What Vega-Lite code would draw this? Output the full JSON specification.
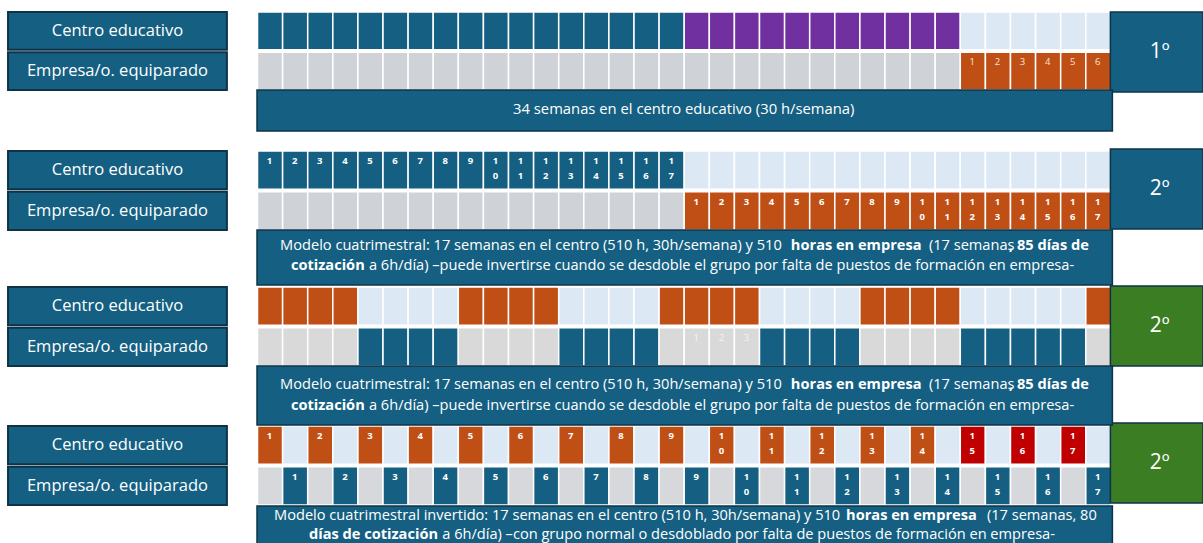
{
"$schema": "https://vega.github.io/schema/vega-lite/v6.json",
"width": 1203, "height": 543,
"autosize": {"type": "fit", "contains": "padding"},
"padding": 0,
"background": "white",
"config": {"view": {"stroke": null}, "axis": {"disable": true}, "legend": {"disable": true}, "text": {"font": "Open Sans"}},
"resolve": {"scale": {"y": "independent", "color": "independent"}},
"datasets": {
"etiquetas": [{"f": "C", "nombre": "Centro educativo"}, {"f": "E", "nombre": "Empresa/o. equiparado"}],
"celdas": [
{"s":1,"f":"C","w":1,"t":"centro"},{"s":1,"f":"C","w":2,"t":"centro"},{"s":1,"f":"C","w":3,"t":"centro"},{"s":1,"f":"C","w":4,"t":"centro"},{"s":1,"f":"C","w":5,"t":"centro"},{"s":1,"f":"C","w":6,"t":"centro"},{"s":1,"f":"C","w":7,"t":"centro"},{"s":1,"f":"C","w":8,"t":"centro"},{"s":1,"f":"C","w":9,"t":"centro"},{"s":1,"f":"C","w":10,"t":"centro"},{"s":1,"f":"C","w":11,"t":"centro"},{"s":1,"f":"C","w":12,"t":"centro"},{"s":1,"f":"C","w":13,"t":"centro"},{"s":1,"f":"C","w":14,"t":"centro"},{"s":1,"f":"C","w":15,"t":"centro"},{"s":1,"f":"C","w":16,"t":"centro"},{"s":1,"f":"C","w":17,"t":"centro"},
{"s":1,"f":"C","w":18,"t":"centro2"},{"s":1,"f":"C","w":19,"t":"centro2"},{"s":1,"f":"C","w":20,"t":"centro2"},{"s":1,"f":"C","w":21,"t":"centro2"},{"s":1,"f":"C","w":22,"t":"centro2"},{"s":1,"f":"C","w":23,"t":"centro2"},{"s":1,"f":"C","w":24,"t":"centro2"},{"s":1,"f":"C","w":25,"t":"centro2"},{"s":1,"f":"C","w":26,"t":"centro2"},{"s":1,"f":"C","w":27,"t":"centro2"},{"s":1,"f":"C","w":28,"t":"centro2"},
{"s":1,"f":"C","w":29,"t":"libre"},{"s":1,"f":"C","w":30,"t":"libre"},{"s":1,"f":"C","w":31,"t":"libre"},{"s":1,"f":"C","w":32,"t":"libre"},{"s":1,"f":"C","w":33,"t":"libre"},{"s":1,"f":"C","w":34,"t":"libre"},
{"s":1,"f":"E","w":1,"t":"sin"},{"s":1,"f":"E","w":2,"t":"sin"},{"s":1,"f":"E","w":3,"t":"sin"},{"s":1,"f":"E","w":4,"t":"sin"},{"s":1,"f":"E","w":5,"t":"sin"},{"s":1,"f":"E","w":6,"t":"sin"},{"s":1,"f":"E","w":7,"t":"sin"},{"s":1,"f":"E","w":8,"t":"sin"},{"s":1,"f":"E","w":9,"t":"sin"},{"s":1,"f":"E","w":10,"t":"sin"},{"s":1,"f":"E","w":11,"t":"sin"},{"s":1,"f":"E","w":12,"t":"sin"},{"s":1,"f":"E","w":13,"t":"sin"},{"s":1,"f":"E","w":14,"t":"sin"},{"s":1,"f":"E","w":15,"t":"sin"},{"s":1,"f":"E","w":16,"t":"sin"},{"s":1,"f":"E","w":17,"t":"sin"},{"s":1,"f":"E","w":18,"t":"sin"},{"s":1,"f":"E","w":19,"t":"sin"},{"s":1,"f":"E","w":20,"t":"sin"},{"s":1,"f":"E","w":21,"t":"sin"},{"s":1,"f":"E","w":22,"t":"sin"},{"s":1,"f":"E","w":23,"t":"sin"},{"s":1,"f":"E","w":24,"t":"sin"},{"s":1,"f":"E","w":25,"t":"sin"},{"s":1,"f":"E","w":26,"t":"sin"},{"s":1,"f":"E","w":27,"t":"sin"},{"s":1,"f":"E","w":28,"t":"sin"},
{"s":1,"f":"E","w":29,"t":"empresa","n":"1"},{"s":1,"f":"E","w":30,"t":"empresa","n":"2"},{"s":1,"f":"E","w":31,"t":"empresa","n":"3"},{"s":1,"f":"E","w":32,"t":"empresa","n":"4"},{"s":1,"f":"E","w":33,"t":"empresa","n":"5"},{"s":1,"f":"E","w":34,"t":"empresa","n":"6"},

{"s":2,"f":"C","w":1,"t":"centro","n":"1"},{"s":2,"f":"C","w":2,"t":"centro","n":"2"},{"s":2,"f":"C","w":3,"t":"centro","n":"3"},{"s":2,"f":"C","w":4,"t":"centro","n":"4"},{"s":2,"f":"C","w":5,"t":"centro","n":"5"},{"s":2,"f":"C","w":6,"t":"centro","n":"6"},{"s":2,"f":"C","w":7,"t":"centro","n":"7"},{"s":2,"f":"C","w":8,"t":"centro","n":"8"},{"s":2,"f":"C","w":9,"t":"centro","n":"9"},{"s":2,"f":"C","w":10,"t":"centro","n":"1\n0"},{"s":2,"f":"C","w":11,"t":"centro","n":"1\n1"},{"s":2,"f":"C","w":12,"t":"centro","n":"1\n2"},{"s":2,"f":"C","w":13,"t":"centro","n":"1\n3"},{"s":2,"f":"C","w":14,"t":"centro","n":"1\n4"},{"s":2,"f":"C","w":15,"t":"centro","n":"1\n5"},{"s":2,"f":"C","w":16,"t":"centro","n":"1\n6"},{"s":2,"f":"C","w":17,"t":"centro","n":"1\n7"},
{"s":2,"f":"C","w":18,"t":"libre"},{"s":2,"f":"C","w":19,"t":"libre"},{"s":2,"f":"C","w":20,"t":"libre"},{"s":2,"f":"C","w":21,"t":"libre"},{"s":2,"f":"C","w":22,"t":"libre"},{"s":2,"f":"C","w":23,"t":"libre"},{"s":2,"f":"C","w":24,"t":"libre"},{"s":2,"f":"C","w":25,"t":"libre"},{"s":2,"f":"C","w":26,"t":"libre"},{"s":2,"f":"C","w":27,"t":"libre"},{"s":2,"f":"C","w":28,"t":"libre"},{"s":2,"f":"C","w":29,"t":"libre"},{"s":2,"f":"C","w":30,"t":"libre"},{"s":2,"f":"C","w":31,"t":"libre"},{"s":2,"f":"C","w":32,"t":"libre"},{"s":2,"f":"C","w":33,"t":"libre"},{"s":2,"f":"C","w":34,"t":"libre"},
{"s":2,"f":"E","w":1,"t":"sin"},{"s":2,"f":"E","w":2,"t":"sin"},{"s":2,"f":"E","w":3,"t":"sin"},{"s":2,"f":"E","w":4,"t":"sin"},{"s":2,"f":"E","w":5,"t":"sin"},{"s":2,"f":"E","w":6,"t":"sin"},{"s":2,"f":"E","w":7,"t":"sin"},{"s":2,"f":"E","w":8,"t":"sin"},{"s":2,"f":"E","w":9,"t":"sin"},{"s":2,"f":"E","w":10,"t":"sin"},{"s":2,"f":"E","w":11,"t":"sin"},{"s":2,"f":"E","w":12,"t":"sin"},{"s":2,"f":"E","w":13,"t":"sin"},{"s":2,"f":"E","w":14,"t":"sin"},{"s":2,"f":"E","w":15,"t":"sin"},{"s":2,"f":"E","w":16,"t":"sin"},{"s":2,"f":"E","w":17,"t":"sin"},
{"s":2,"f":"E","w":18,"t":"empresa","n":"1"},{"s":2,"f":"E","w":19,"t":"empresa","n":"2"},{"s":2,"f":"E","w":20,"t":"empresa","n":"3"},{"s":2,"f":"E","w":21,"t":"empresa","n":"4"},{"s":2,"f":"E","w":22,"t":"empresa","n":"5"},{"s":2,"f":"E","w":23,"t":"empresa","n":"6"},{"s":2,"f":"E","w":24,"t":"empresa","n":"7"},{"s":2,"f":"E","w":25,"t":"empresa","n":"8"},{"s":2,"f":"E","w":26,"t":"empresa","n":"9"},{"s":2,"f":"E","w":27,"t":"empresa","n":"1\n0"},{"s":2,"f":"E","w":28,"t":"empresa","n":"1\n1"},{"s":2,"f":"E","w":29,"t":"empresa","n":"1\n2"},{"s":2,"f":"E","w":30,"t":"empresa","n":"1\n3"},{"s":2,"f":"E","w":31,"t":"empresa","n":"1\n4"},{"s":2,"f":"E","w":32,"t":"empresa","n":"1\n5"},{"s":2,"f":"E","w":33,"t":"empresa","n":"1\n6"},{"s":2,"f":"E","w":34,"t":"empresa","n":"1\n7"},

{"s":3,"f":"C","w":1,"t":"empresa"},{"s":3,"f":"C","w":2,"t":"empresa"},{"s":3,"f":"C","w":3,"t":"empresa"},{"s":3,"f":"C","w":4,"t":"empresa"},{"s":3,"f":"C","w":5,"t":"libre"},{"s":3,"f":"C","w":6,"t":"libre"},{"s":3,"f":"C","w":7,"t":"libre"},{"s":3,"f":"C","w":8,"t":"libre"},{"s":3,"f":"C","w":9,"t":"empresa"},{"s":3,"f":"C","w":10,"t":"empresa"},{"s":3,"f":"C","w":11,"t":"empresa"},{"s":3,"f":"C","w":12,"t":"empresa"},{"s":3,"f":"C","w":13,"t":"libre"},{"s":3,"f":"C","w":14,"t":"libre"},{"s":3,"f":"C","w":15,"t":"libre"},{"s":3,"f":"C","w":16,"t":"libre"},{"s":3,"f":"C","w":17,"t":"empresa"},{"s":3,"f":"C","w":18,"t":"empresa"},{"s":3,"f":"C","w":19,"t":"empresa"},{"s":3,"f":"C","w":20,"t":"empresa"},{"s":3,"f":"C","w":21,"t":"libre"},{"s":3,"f":"C","w":22,"t":"libre"},{"s":3,"f":"C","w":23,"t":"libre"},{"s":3,"f":"C","w":24,"t":"libre"},{"s":3,"f":"C","w":25,"t":"empresa"},{"s":3,"f":"C","w":26,"t":"empresa"},{"s":3,"f":"C","w":27,"t":"empresa"},{"s":3,"f":"C","w":28,"t":"empresa"},{"s":3,"f":"C","w":29,"t":"libre"},{"s":3,"f":"C","w":30,"t":"libre"},{"s":3,"f":"C","w":31,"t":"libre"},{"s":3,"f":"C","w":32,"t":"libre"},{"s":3,"f":"C","w":33,"t":"libre"},{"s":3,"f":"C","w":34,"t":"empresa"},
{"s":3,"f":"E","w":1,"t":"sin"},{"s":3,"f":"E","w":2,"t":"sin"},{"s":3,"f":"E","w":3,"t":"sin"},{"s":3,"f":"E","w":4,"t":"sin"},{"s":3,"f":"E","w":5,"t":"centro"},{"s":3,"f":"E","w":6,"t":"centro"},{"s":3,"f":"E","w":7,"t":"centro"},{"s":3,"f":"E","w":8,"t":"centro"},{"s":3,"f":"E","w":9,"t":"sin"},{"s":3,"f":"E","w":10,"t":"sin"},{"s":3,"f":"E","w":11,"t":"sin"},{"s":3,"f":"E","w":12,"t":"sin"},{"s":3,"f":"E","w":13,"t":"centro"},{"s":3,"f":"E","w":14,"t":"centro"},{"s":3,"f":"E","w":15,"t":"centro"},{"s":3,"f":"E","w":16,"t":"centro"},{"s":3,"f":"E","w":17,"t":"sin"},{"s":3,"f":"E","w":18,"t":"sin","n":"1"},{"s":3,"f":"E","w":19,"t":"sin","n":"2"},{"s":3,"f":"E","w":20,"t":"sin","n":"3"},{"s":3,"f":"E","w":21,"t":"centro"},{"s":3,"f":"E","w":22,"t":"centro"},{"s":3,"f":"E","w":23,"t":"centro"},{"s":3,"f":"E","w":24,"t":"centro"},{"s":3,"f":"E","w":25,"t":"sin"},{"s":3,"f":"E","w":26,"t":"sin"},{"s":3,"f":"E","w":27,"t":"sin"},{"s":3,"f":"E","w":28,"t":"sin"},{"s":3,"f":"E","w":29,"t":"centro"},{"s":3,"f":"E","w":30,"t":"centro"},{"s":3,"f":"E","w":31,"t":"centro"},{"s":3,"f":"E","w":32,"t":"centro"},{"s":3,"f":"E","w":33,"t":"centro"},{"s":3,"f":"E","w":34,"t":"sin"},

{"s":4,"f":"C","w":1,"t":"empresa","n":"1"},{"s":4,"f":"C","w":2,"t":"libre"},{"s":4,"f":"C","w":3,"t":"empresa","n":"2"},{"s":4,"f":"C","w":4,"t":"libre"},{"s":4,"f":"C","w":5,"t":"empresa","n":"3"},{"s":4,"f":"C","w":6,"t":"libre"},{"s":4,"f":"C","w":7,"t":"empresa","n":"4"},{"s":4,"f":"C","w":8,"t":"libre"},{"s":4,"f":"C","w":9,"t":"empresa","n":"5"},{"s":4,"f":"C","w":10,"t":"libre"},{"s":4,"f":"C","w":11,"t":"empresa","n":"6"},{"s":4,"f":"C","w":12,"t":"libre"},{"s":4,"f":"C","w":13,"t":"empresa","n":"7"},{"s":4,"f":"C","w":14,"t":"libre"},{"s":4,"f":"C","w":15,"t":"empresa","n":"8"},{"s":4,"f":"C","w":16,"t":"libre"},{"s":4,"f":"C","w":17,"t":"empresa","n":"9"},{"s":4,"f":"C","w":18,"t":"libre"},{"s":4,"f":"C","w":19,"t":"empresa","n":"1\n0"},{"s":4,"f":"C","w":20,"t":"libre"},{"s":4,"f":"C","w":21,"t":"empresa","n":"1\n1"},{"s":4,"f":"C","w":22,"t":"libre"},{"s":4,"f":"C","w":23,"t":"empresa","n":"1\n2"},{"s":4,"f":"C","w":24,"t":"libre"},{"s":4,"f":"C","w":25,"t":"empresa","n":"1\n3"},{"s":4,"f":"C","w":26,"t":"libre"},{"s":4,"f":"C","w":27,"t":"empresa","n":"1\n4"},{"s":4,"f":"C","w":28,"t":"libre"},{"s":4,"f":"C","w":29,"t":"empresa2","n":"1\n5"},{"s":4,"f":"C","w":30,"t":"libre"},{"s":4,"f":"C","w":31,"t":"empresa2","n":"1\n6"},{"s":4,"f":"C","w":32,"t":"libre"},{"s":4,"f":"C","w":33,"t":"empresa2","n":"1\n7"},{"s":4,"f":"C","w":34,"t":"libre"},
{"s":4,"f":"E","w":1,"t":"sin"},{"s":4,"f":"E","w":2,"t":"centro","n":"1"},{"s":4,"f":"E","w":3,"t":"sin"},{"s":4,"f":"E","w":4,"t":"centro","n":"2"},{"s":4,"f":"E","w":5,"t":"sin"},{"s":4,"f":"E","w":6,"t":"centro","n":"3"},{"s":4,"f":"E","w":7,"t":"sin"},{"s":4,"f":"E","w":8,"t":"centro","n":"4"},{"s":4,"f":"E","w":9,"t":"sin"},{"s":4,"f":"E","w":10,"t":"centro","n":"5"},{"s":4,"f":"E","w":11,"t":"sin"},{"s":4,"f":"E","w":12,"t":"centro","n":"6"},{"s":4,"f":"E","w":13,"t":"sin"},{"s":4,"f":"E","w":14,"t":"centro","n":"7"},{"s":4,"f":"E","w":15,"t":"sin"},{"s":4,"f":"E","w":16,"t":"centro","n":"8"},{"s":4,"f":"E","w":17,"t":"sin"},{"s":4,"f":"E","w":18,"t":"centro","n":"9"},{"s":4,"f":"E","w":19,"t":"sin"},{"s":4,"f":"E","w":20,"t":"centro","n":"1\n0"},{"s":4,"f":"E","w":21,"t":"sin"},{"s":4,"f":"E","w":22,"t":"centro","n":"1\n1"},{"s":4,"f":"E","w":23,"t":"sin"},{"s":4,"f":"E","w":24,"t":"centro","n":"1\n2"},{"s":4,"f":"E","w":25,"t":"sin"},{"s":4,"f":"E","w":26,"t":"centro","n":"1\n3"},{"s":4,"f":"E","w":27,"t":"sin"},{"s":4,"f":"E","w":28,"t":"centro","n":"1\n4"},{"s":4,"f":"E","w":29,"t":"sin"},{"s":4,"f":"E","w":30,"t":"centro","n":"1\n5"},{"s":4,"f":"E","w":31,"t":"sin"},{"s":4,"f":"E","w":32,"t":"centro","n":"1\n6"},{"s":4,"f":"E","w":33,"t":"sin"},{"s":4,"f":"E","w":34,"t":"centro","n":"1\n7"}
]
},
"layer": [
{"data": {"name": "celdas"}, "transform": [{"filter": "datum.s == 1"}],
 "layer": [
  {"mark": {"type": "rect", "stroke": "white", "strokeWidth": 1.5},
   "encoding": {
    "x": {"field": "w", "type": "quantitative", "bin": {"step": 1, "extent": [1, 35]}, "scale": {"domain": [-9.24, 38.69], "nice": false, "zero": false}},
    "y": {"field": "f", "type": "nominal", "scale": {"domain": ["C", "E"], "range": [12, 90], "paddingInner": 0.06, "paddingOuter": 0}},
    "color": {"field": "t", "type": "nominal", "scale": {"domain": ["centro", "centro2", "libre", "sin", "empresa", "empresa2"], "range": ["#156082", "#7030A0", "#DCE9F5", "#CFD3D8", "#C04F15", "#C00000"]}}}},
  {"transform": [{"filter": "datum.n"}],
   "mark": {"type": "text", "color": "#F6E4DA", "fontSize": 9.5, "baseline": "top", "dy": -14, "lineBreak": "\n", "lineHeight": 15},
   "encoding": {"x": {"field": "w", "type": "quantitative", "bin": {"step": 1, "extent": [1, 35]}}, "y": {"field": "f", "type": "nominal"}, "text": {"field": "n"}}},
  {"data": {"name": "etiquetas"}, "mark": {"type": "rect", "fill": "#156082", "stroke": "#0E3347", "strokeWidth": 2},
   "encoding": {"x": {"datum": -8.92, "type": "quantitative"}, "x2": {"datum": -0.2}, "y": {"field": "f", "type": "nominal"}}},
  {"data": {"name": "etiquetas"}, "mark": {"type": "text", "color": "white", "fontSize": 16.5},
   "encoding": {"x": {"datum": -4.56, "type": "quantitative"}, "y": {"field": "f", "type": "nominal"}, "text": {"field": "nombre"}}}
 ]},
{"data": {"name": "celdas"}, "transform": [{"filter": "datum.s == 2"}],
 "layer": [
  {"mark": {"type": "rect", "stroke": "white", "strokeWidth": 1.5},
   "encoding": {
    "x": {"field": "w", "type": "quantitative", "bin": {"step": 1, "extent": [1, 35]}},
    "y": {"field": "f", "type": "nominal", "scale": {"domain": ["C", "E"], "range": [151, 230], "paddingInner": 0.06, "paddingOuter": 0}},
    "color": {"field": "t", "type": "nominal", "scale": {"domain": ["centro", "centro2", "libre", "sin", "empresa", "empresa2"], "range": ["#156082", "#7030A0", "#DCE9F5", "#CFD3D8", "#C04F15", "#C00000"]}}}},
  {"transform": [{"filter": "datum.n"}],
   "mark": {"type": "text", "color": "white", "fontSize": 9.5, "fontWeight": "bold", "baseline": "top", "dy": -14, "lineBreak": "\n", "lineHeight": 15},
   "encoding": {"x": {"field": "w", "type": "quantitative", "bin": {"step": 1, "extent": [1, 35]}}, "y": {"field": "f", "type": "nominal"}, "text": {"field": "n"}}},
  {"data": {"name": "etiquetas"}, "mark": {"type": "rect", "fill": "#156082", "stroke": "#0E3347", "strokeWidth": 2},
   "encoding": {"x": {"datum": -8.92, "type": "quantitative"}, "x2": {"datum": -0.2}, "y": {"field": "f", "type": "nominal"}}},
  {"data": {"name": "etiquetas"}, "mark": {"type": "text", "color": "white", "fontSize": 16.5},
   "encoding": {"x": {"datum": -4.56, "type": "quantitative"}, "y": {"field": "f", "type": "nominal"}, "text": {"field": "nombre"}}}
 ]},
{"data": {"name": "celdas"}, "transform": [{"filter": "datum.s == 3"}],
 "layer": [
  {"mark": {"type": "rect", "stroke": "white", "strokeWidth": 1.5},
   "encoding": {
    "x": {"field": "w", "type": "quantitative", "bin": {"step": 1, "extent": [1, 35]}},
    "y": {"field": "f", "type": "nominal", "scale": {"domain": ["C", "E"], "range": [287, 366], "paddingInner": 0.06, "paddingOuter": 0}},
    "color": {"field": "t", "type": "nominal", "scale": {"domain": ["centro", "centro2", "libre", "sin", "empresa", "empresa2"], "range": ["#156082", "#7030A0", "#DCE9F5", "#D9D9D9", "#C04F15", "#C00000"]}}}},
  {"transform": [{"filter": "datum.n"}],
   "mark": {"type": "text", "color": "#F4F4F4", "fontSize": 9.5, "baseline": "top", "dy": -14, "lineBreak": "\n", "lineHeight": 15},
   "encoding": {"x": {"field": "w", "type": "quantitative", "bin": {"step": 1, "extent": [1, 35]}}, "y": {"field": "f", "type": "nominal"}, "text": {"field": "n"}}},
  {"data": {"name": "etiquetas"}, "mark": {"type": "rect", "fill": "#156082", "stroke": "#0E3347", "strokeWidth": 2},
   "encoding": {"x": {"datum": -8.92, "type": "quantitative"}, "x2": {"datum": -0.2}, "y": {"field": "f", "type": "nominal"}}},
  {"data": {"name": "etiquetas"}, "mark": {"type": "text", "color": "white", "fontSize": 16.5},
   "encoding": {"x": {"datum": -4.56, "type": "quantitative"}, "y": {"field": "f", "type": "nominal"}, "text": {"field": "nombre"}}}
 ]},
{"data": {"name": "celdas"}, "transform": [{"filter": "datum.s == 4"}],
 "layer": [
  {"mark": {"type": "rect", "stroke": "white", "strokeWidth": 1.5},
   "encoding": {
    "x": {"field": "w", "type": "quantitative", "bin": {"step": 1, "extent": [1, 35]}},
    "y": {"field": "f", "type": "nominal", "scale": {"domain": ["C", "E"], "range": [426, 505], "paddingInner": 0.06, "paddingOuter": 0}},
    "color": {"field": "t", "type": "nominal", "scale": {"domain": ["centro", "centro2", "libre", "sin", "empresa", "empresa2"], "range": ["#156082", "#7030A0", "#DCE9F5", "#D6D8DB", "#C04F15", "#C00000"]}}}},
  {"transform": [{"filter": "datum.n"}],
   "mark": {"type": "text", "color": "white", "fontSize": 9.5, "fontWeight": "bold", "baseline": "top", "dy": -14, "lineBreak": "\n", "lineHeight": 15},
   "encoding": {"x": {"field": "w", "type": "quantitative", "bin": {"step": 1, "extent": [1, 35]}}, "y": {"field": "f", "type": "nominal"}, "text": {"field": "n"}}},
  {"data": {"name": "etiquetas"}, "mark": {"type": "rect", "fill": "#156082", "stroke": "#0E3347", "strokeWidth": 2},
   "encoding": {"x": {"datum": -8.92, "type": "quantitative"}, "x2": {"datum": -0.2}, "y": {"field": "f", "type": "nominal"}}},
  {"data": {"name": "etiquetas"}, "mark": {"type": "text", "color": "white", "fontSize": 16.5},
   "encoding": {"x": {"datum": -4.56, "type": "quantitative"}, "y": {"field": "f", "type": "nominal"}, "text": {"field": "nombre"}}}
 ]},
{"data": {"values": [{"s": 1, "curso": "1º", "grupo": "A"}, {"s": 2, "curso": "2º", "grupo": "A"}, {"s": 3, "curso": "2º", "grupo": "B"}, {"s": 4, "curso": "2º", "grupo": "B"}]},
 "layer": [
  {"mark": {"type": "rect", "stroke": "#0E3347", "strokeWidth": 1.5, "clip": true},
   "encoding": {"x": {"datum": 35, "type": "quantitative"}, "x2": {"datum": 38.69},
    "y": {"field": "s", "type": "ordinal", "scale": {"domain": [1, 2, 3, 4], "range": [12, 503], "paddingInner": 0.416, "paddingOuter": 0}},
    "color": {"field": "grupo", "type": "nominal", "scale": {"domain": ["A", "B"], "range": ["#156082", "#3B7D23"]}}}},
  {"mark": {"type": "text", "color": "white", "fontSize": 21},
   "encoding": {"x": {"datum": 36.96, "type": "quantitative"}, "y": {"field": "s", "type": "ordinal"}, "text": {"field": "curso"}}}
 ]},
{"layer": [
  {"data": {"values": [{"bloque": "1º"}]}, "mark": {"type": "rect", "fill": "#156082", "stroke": "#0E3347", "strokeWidth": 1.5},
   "encoding": {"x": {"datum": 1, "type": "quantitative"}, "x2": {"datum": 35.08}, "y": {"datum": 90, "type": "quantitative", "scale": {"domain": [0, 543], "range": [0, 543], "nice": false, "zero": false}}, "y2": {"datum": 131}}},
  {"data": {"values": [{"bloque": "2º A"}]}, "mark": {"type": "rect", "fill": "#156082", "stroke": "#0E3347", "strokeWidth": 1.5},
   "encoding": {"x": {"datum": 1, "type": "quantitative"}, "x2": {"datum": 35.08}, "y": {"datum": 230, "type": "quantitative"}, "y2": {"datum": 285}}},
  {"data": {"values": [{"bloque": "2º B"}]}, "mark": {"type": "rect", "fill": "#156082", "stroke": "#0E3347", "strokeWidth": 1.5},
   "encoding": {"x": {"datum": 1, "type": "quantitative"}, "x2": {"datum": 35.08}, "y": {"datum": 366, "type": "quantitative"}, "y2": {"datum": 425}}},
  {"data": {"values": [{"bloque": "2º C"}]}, "mark": {"type": "rect", "fill": "#156082", "stroke": "#0E3347", "strokeWidth": 1.5, "clip": true},
   "encoding": {"x": {"datum": 1, "type": "quantitative"}, "x2": {"datum": 35.08}, "y": {"datum": 506, "type": "quantitative"}, "y2": {"datum": 560}}},

  {"data": {"values": [{"texto": "34 semanas en el centro educativo (30 h/semana)"}]}, "mark": {"type": "text", "color": "white", "fontSize": 14.8, "align": "center", "baseline": "middle"},
   "encoding": {"x": {"datum": 18, "type": "quantitative"}, "y": {"datum": 110, "type": "quantitative"}, "text": {"field": "texto"}}},

  {"data": {"values": [{"texto": "Modelo cuatrimestral: 17 semanas en el centro (510 h, 30h/semana) y 510"}]}, "mark": {"type": "text", "color": "white", "fontSize": 14.6, "align": "left", "baseline": "middle"},
   "encoding": {"x": {"datum": 1.92, "type": "quantitative"}, "y": {"datum": 246, "type": "quantitative"}, "text": {"field": "texto"}}},
  {"data": {"values": [{"texto": "horas en empresa"}]}, "mark": {"type": "text", "color": "white", "fontSize": 14.6, "fontWeight": "bold", "align": "left", "baseline": "middle"},
   "encoding": {"x": {"datum": 22.27, "type": "quantitative"}, "y": {"datum": 246, "type": "quantitative"}, "text": {"field": "texto"}}},
  {"data": {"values": [{"texto": "(17 semanas"}]}, "mark": {"type": "text", "color": "white", "fontSize": 14.6, "align": "left", "baseline": "middle"},
   "encoding": {"x": {"datum": 27.77, "type": "quantitative"}, "y": {"datum": 246, "type": "quantitative"}, "text": {"field": "texto"}}},
  {"data": {"values": [{"texto": ", 85 días de"}]}, "mark": {"type": "text", "color": "white", "fontSize": 14.6, "fontWeight": "bold", "align": "left", "baseline": "middle"},
   "encoding": {"x": {"datum": 30.96, "type": "quantitative"}, "y": {"datum": 246, "type": "quantitative"}, "text": {"field": "texto"}}},
  {"data": {"values": [{"texto": "cotización"}]}, "mark": {"type": "text", "color": "white", "fontSize": 14.6, "fontWeight": "bold", "align": "left", "baseline": "middle"},
   "encoding": {"x": {"datum": 2.35, "type": "quantitative"}, "y": {"datum": 266, "type": "quantitative"}, "text": {"field": "texto"}}},
  {"data": {"values": [{"texto": "a 6h/día) –puede invertirse cuando se desdoble el grupo por falta de puestos de formación en empresa-"}]}, "mark": {"type": "text", "color": "white", "fontSize": 14.6, "align": "left", "baseline": "middle"},
   "encoding": {"x": {"datum": 5.46, "type": "quantitative"}, "y": {"datum": 266, "type": "quantitative"}, "text": {"field": "texto"}}},

  {"data": {"values": [{"texto": "Modelo cuatrimestral: 17 semanas en el centro (510 h, 30h/semana) y 510"}]}, "mark": {"type": "text", "color": "white", "fontSize": 14.6, "align": "left", "baseline": "middle"},
   "encoding": {"x": {"datum": 1.92, "type": "quantitative"}, "y": {"datum": 385, "type": "quantitative"}, "text": {"field": "texto"}}},
  {"data": {"values": [{"texto": "horas en empresa"}]}, "mark": {"type": "text", "color": "white", "fontSize": 14.6, "fontWeight": "bold", "align": "left", "baseline": "middle"},
   "encoding": {"x": {"datum": 22.27, "type": "quantitative"}, "y": {"datum": 385, "type": "quantitative"}, "text": {"field": "texto"}}},
  {"data": {"values": [{"texto": "(17 semanas"}]}, "mark": {"type": "text", "color": "white", "fontSize": 14.6, "align": "left", "baseline": "middle"},
   "encoding": {"x": {"datum": 27.77, "type": "quantitative"}, "y": {"datum": 385, "type": "quantitative"}, "text": {"field": "texto"}}},
  {"data": {"values": [{"texto": ", 85 días de"}]}, "mark": {"type": "text", "color": "white", "fontSize": 14.6, "fontWeight": "bold", "align": "left", "baseline": "middle"},
   "encoding": {"x": {"datum": 30.96, "type": "quantitative"}, "y": {"datum": 385, "type": "quantitative"}, "text": {"field": "texto"}}},
  {"data": {"values": [{"texto": "cotización"}]}, "mark": {"type": "text", "color": "white", "fontSize": 14.6, "fontWeight": "bold", "align": "left", "baseline": "middle"},
   "encoding": {"x": {"datum": 2.35, "type": "quantitative"}, "y": {"datum": 406, "type": "quantitative"}, "text": {"field": "texto"}}},
  {"data": {"values": [{"texto": "a 6h/día) –puede invertirse cuando se desdoble el grupo por falta de puestos de formación en empresa-"}]}, "mark": {"type": "text", "color": "white", "fontSize": 14.6, "align": "left", "baseline": "middle"},
   "encoding": {"x": {"datum": 5.46, "type": "quantitative"}, "y": {"datum": 406, "type": "quantitative"}, "text": {"field": "texto"}}},

  {"data": {"values": [{"texto": "Modelo cuatrimestral invertido: 17 semanas en el centro (510 h, 30h/semana) y 510"}]}, "mark": {"type": "text", "color": "white", "fontSize": 14.6, "align": "left", "baseline": "middle"},
   "encoding": {"x": {"datum": 1.68, "type": "quantitative"}, "y": {"datum": 516, "type": "quantitative"}, "text": {"field": "texto"}}},
  {"data": {"values": [{"texto": "horas en empresa"}]}, "mark": {"type": "text", "color": "white", "fontSize": 14.6, "fontWeight": "bold", "align": "left", "baseline": "middle"},
   "encoding": {"x": {"datum": 24.47, "type": "quantitative"}, "y": {"datum": 516, "type": "quantitative"}, "text": {"field": "texto"}}},
  {"data": {"values": [{"texto": "(17 semanas, 80"}]}, "mark": {"type": "text", "color": "white", "fontSize": 14.6, "align": "left", "baseline": "middle"},
   "encoding": {"x": {"datum": 30.08, "type": "quantitative"}, "y": {"datum": 516, "type": "quantitative"}, "text": {"field": "texto"}}},
  {"data": {"values": [{"texto": "días de cotización"}]}, "mark": {"type": "text", "color": "white", "fontSize": 14.6, "fontWeight": "bold", "align": "left", "baseline": "middle"},
   "encoding": {"x": {"datum": 3.07, "type": "quantitative"}, "y": {"datum": 535, "type": "quantitative"}, "text": {"field": "texto"}}},
  {"data": {"values": [{"texto": "a 6h/día) –con grupo normal o desdoblado por falta de puestos de formación en empresa-"}]}, "mark": {"type": "text", "color": "white", "fontSize": 14.6, "align": "left", "baseline": "middle"},
   "encoding": {"x": {"datum": 8.38, "type": "quantitative"}, "y": {"datum": 535, "type": "quantitative"}, "text": {"field": "texto"}}}
 ]}
]
}
